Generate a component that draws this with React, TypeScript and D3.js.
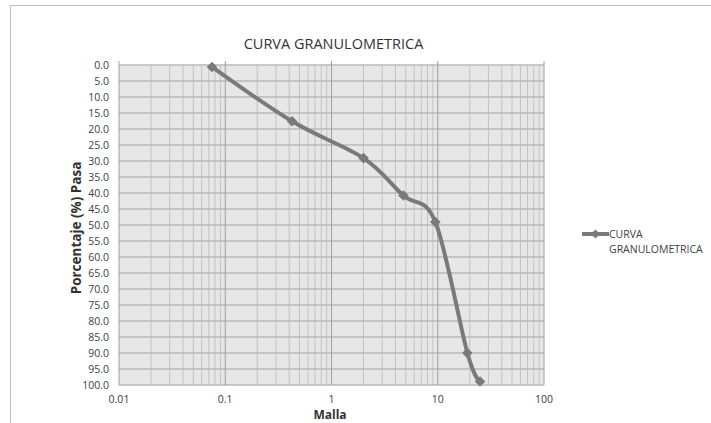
import { useEffect, useRef } from "react";
import * as d3 from "d3";

// sieve openings (mm) and percentage values
const malla = [0.075, 0.425, 2, 4.75, 9.5, 19, 25];
const pasa = [0.6, 17.6, 29.1, 40.8, 49.1, 90, 98.9];
const xTicks = [0.01, 0.1, 1, 10, 100];
const yTicks = d3.range(0, 101, 5);

function App() {
  const ref = useRef<SVGSVGElement>(null);

  const width = 711;
  const height = 423;
  const margin = { top: 65, right: 167, bottom: 38, left: 119 };
  const font = "'Open Sans', sans-serif";

  const drawChart = () => {
    const svg = d3.select(ref.current);
    svg.selectAll("*").remove();

    const x = d3.scaleLog().domain([0.01, 100]).range([margin.left, width - margin.right]);
    const y = d3.scaleLinear().domain([0, 100]).range([margin.top, height - margin.bottom]);

    // chart border
    svg.append("rect")
      .attr("x", 10.5).attr("y", 5.5)
      .attr("width", 800).attr("height", 500)
      .attr("fill", "white").attr("stroke", "#bfbfbf");

    // plot background
    svg.append("rect")
      .attr("x", x(0.01)).attr("y", y(0))
      .attr("width", x(100) - x(0.01)).attr("height", y(100) - y(0))
      .attr("fill", "#e7e7e8");

    // minor vertical grid
    const minor: number[] = [];
    for (let d = 0.01; d < 100; d *= 10) {
      for (let k = 2; k <= 9; k++) minor.push(d * k);
    }
    svg.append("g").selectAll("line").data(minor).enter().append("line")
      .attr("x1", d => x(d)).attr("x2", d => x(d))
      .attr("y1", y(0)).attr("y2", y(100))
      .attr("stroke", "#c2c2c2").attr("stroke-width", 1);

    // horizontal grid
    svg.append("g").selectAll("line").data(yTicks).enter().append("line")
      .attr("x1", x(0.01)).attr("x2", x(100))
      .attr("y1", d => y(d)).attr("y2", d => y(d))
      .attr("stroke", "#b8b8b8").attr("stroke-width", 1.4);

    // major vertical grid
    svg.append("g").selectAll("line").data(xTicks).enter().append("line")
      .attr("x1", d => x(d)).attr("x2", d => x(d))
      .attr("y1", y(0) - 4).attr("y2", y(100))
      .attr("stroke", "#a0a0a0").attr("stroke-width", 1);

    // y tick labels
    svg.append("g").selectAll("text").data(yTicks).enter().append("text")
      .attr("x", x(0.01) - 10).attr("y", d => y(d))
      .attr("dy", "0.35em")
      .attr("text-anchor", "end")
      .attr("font-family", font).attr("font-size", 10.5).attr("fill", "#404040")
      .text(d => d3.format(".1f")(d));

    // x tick labels
    svg.append("g").selectAll("text").data(xTicks).enter().append("text")
      .attr("x", d => x(d)).attr("y", y(100) + 18)
      .attr("text-anchor", "middle")
      .attr("font-family", font).attr("font-size", 10.5).attr("fill", "#404040")
      .text(d => String(d));

    // title
    svg.append("text")
      .attr("x", (x(0.01) + x(100)) / 2 + 2).attr("y", 49)
      .attr("text-anchor", "middle")
      .attr("font-family", font).attr("font-size", 14.5).attr("fill", "#333")
      .text("CURVA GRANULOMETRICA");

    // axis titles
    svg.append("text")
      .attr("x", 330).attr("y", 419)
      .attr("text-anchor", "middle")
      .attr("font-family", font).attr("font-size", 12).attr("font-weight", "bold").attr("fill", "#333")
      .text("Malla");

    svg.append("text")
      .attr("transform", `translate(81, 228) rotate(-90)`)
      .attr("text-anchor", "middle")
      .attr("font-family", font).attr("font-size", 13.5).attr("font-weight", "bold").attr("fill", "#333")
      .text("Porcentaje (%) Pasa");

    // curve
    const data = malla.map((m, i) => ({ m, p: pasa[i] }));
    const line = d3.line<{ m: number; p: number }>()
      .x(d => x(d.m)).y(d => y(d.p))
      .curve(d3.curveCatmullRom.alpha(0));

    const color = "#7a7a7a";
    svg.append("path")
      .datum(data)
      .attr("d", line)
      .attr("fill", "none").attr("stroke", color).attr("stroke-width", 4)
      .attr("stroke-linejoin", "round");

    const marker = d3.symbol().type(d3.symbolSquare).size(56);
    svg.append("g").selectAll("path").data(data).enter().append("path")
      .attr("d", marker)
      .attr("transform", d => `translate(${x(d.m)}, ${y(d.p)}) rotate(45)`)
      .attr("fill", color);

    // legend
    const lg = svg.append("g").attr("transform", "translate(582, 234)");
    lg.append("line")
      .attr("x1", 0).attr("x2", 27).attr("y1", 0).attr("y2", 0)
      .attr("stroke", color).attr("stroke-width", 4);
    lg.append("path")
      .attr("d", d3.symbol().type(d3.symbolSquare).size(40))
      .attr("transform", "translate(13.5, 0) rotate(45)")
      .attr("fill", color);
    lg.append("text")
      .attr("x", 27).attr("y", 4)
      .attr("font-family", font).attr("font-size", 10.5).attr("fill", "#404040")
      .text("CURVA");
    lg.append("text")
      .attr("x", 27).attr("y", 19)
      .attr("font-family", font).attr("font-size", 10.5).attr("fill", "#404040")
      .text("GRANULOMETRICA");
  };

  useEffect(() => {
    drawChart();
  });

  return (
    <div style={{ position: "absolute", left: 0, top: 0 }}>
      <svg ref={ref} width={width} height={height} style={{ display: "block" }}></svg>
    </div>
  );
}

export default App;
